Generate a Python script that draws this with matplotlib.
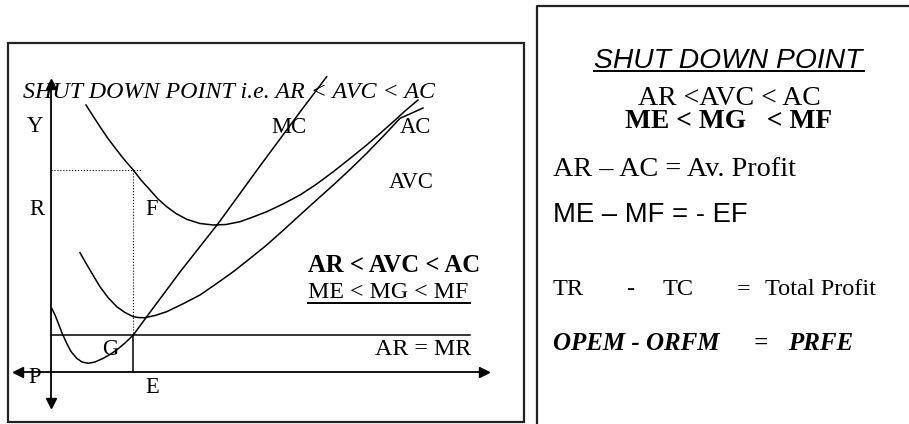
import numpy as np
import matplotlib.pyplot as plt
from matplotlib.patches import Rectangle

# curves (pixel coordinates, y downwards)
mc_x = [51.7, 55.0, 58.3, 62.0, 66.7, 71.0, 76.7, 82.0, 88.3, 95.0, 103.3, 110.0, 116.7, 125.0, 133.3, 146.7, 180.0, 218.3, 260.0, 300.0, 326.7]
mc_y = [308.3, 315.0, 323.3, 333.0, 343.3, 351.5, 358.3, 362.0, 363.3, 362.0, 358.3, 354.5, 350.0, 343.0, 335.0, 316.7, 272.0, 223.3, 166.0, 112.0, 76.7]

ac_x = [86.0, 93.0, 100.0, 108.0, 116.7, 125.0, 133.3, 141.0, 150.0, 158.0, 166.7, 176.0, 186.7, 200.0, 213.3, 226.0, 240.0, 253.0, 266.7, 283.0, 300.0, 316.0, 333.3, 350.0, 366.7, 380.0, 393.3, 405.0, 418.0]
ac_y = [105.0, 116.0, 126.7, 138.5, 150.0, 160.5, 170.0, 180.0, 190.0, 199.0, 206.7, 213.5, 219.3, 223.5, 225.0, 224.5, 221.7, 217.0, 211.7, 204.0, 195.0, 184.5, 171.7, 158.5, 145.0, 133.5, 121.7, 111.0, 100.0]

avc_x = [80.0, 85.0, 90.0, 95.0, 100.0, 108.0, 116.7, 125.0, 133.3, 139.0, 145.0, 155.0, 166.7, 183.0, 200.0, 216.0, 233.3, 250.0, 266.7, 283.0, 300.0, 316.0, 333.3, 350.0, 366.7, 383.0, 400.0, 412.0, 423.0]
avc_y = [252.7, 261.5, 270.0, 278.5, 286.7, 297.5, 306.7, 312.5, 316.7, 317.6, 317.7, 315.5, 311.7, 303.8, 295.0, 284.0, 271.7, 258.5, 245.0, 230.5, 215.0, 200.5, 185.0, 169.5, 153.3, 136.5, 118.3, 113.0, 108.0]

price_y = 335.0      # AR = MR level
output_x = 133.3     # quantity E
fy = 170.0           # level of F on AC

fig = plt.figure(figsize=(9.09, 4.24), dpi=100)
ax = fig.add_axes([0, 0, 1, 1])
ax.set_xlim(0, 909)
ax.set_ylim(424, 0)
ax.axis('off')

serif = ['Liberation Serif', 'DejaVu Serif']
sans = ['Liberation Sans', 'DejaVu Sans']

# frames
ax.add_patch(Rectangle((8, 43), 515.7, 379, fill=False, lw=1.6, ec='#222222'))
ax.plot([537, 537, 912], [426, 6, 6], color='#222222', lw=1.6)

# axes with arrows
ax.plot([50.7, 50.7], [86, 404], color='black', lw=1.3)
ax.plot([18, 484], [371.7, 371.7], color='black', lw=1.3)
ax.plot([50.7], [84], marker='^', color='black', ms=7)
ax.plot([50.7], [403], marker='v', color='black', ms=7)
ax.plot([18], [371.7], marker='<', color='black', ms=7)
ax.plot([484], [371.7], marker='>', color='black', ms=7)

# AR = MR line and E drop
ax.plot([50.7, 470], [price_y, price_y], color='black', lw=1.1)
ax.plot([output_x, output_x], [price_y, 371.7], color='black', lw=1.1)
ax.plot([output_x, output_x], [fy, price_y], color='black', lw=0.8, ls=':')
ax.plot([50.7, 141.7], [fy, fy], color='black', lw=0.8, ls=':')

# cost curves
ax.plot(mc_x, mc_y, color='black', lw=1.1)
ax.plot(ac_x, ac_y, color='black', lw=1.1)
ax.plot(avc_x, avc_y, color='black', lw=1.1)

# diagram labels
ax.text(23, 97.7, 'SHUT DOWN POINT i.e. AR < AVC < AC', family=serif, style='italic', fontsize=17.3, va='baseline')
lab = dict(family=serif, fontsize=16.3, va='baseline')
ax.text(26.7, 131.7, 'Y', **lab)
ax.text(29.3, 215, 'R', **lab)
ax.text(145, 215, 'F', **lab)
ax.text(101.7, 355, 'G', **lab)
ax.text(28.3, 383.3, 'P', **lab)
ax.text(145, 393.3, 'E', **lab)
ax.text(271.7, 132.7, 'MC', **lab)
ax.text(400, 132.7, 'AC', **lab)
ax.text(388.3, 188.3, 'AVC', **lab)
ax.text(375, 355, 'AR = MR', family=serif, fontsize=17.3, va='baseline')
ax.text(308.3, 272.3, 'AR < AVC < AC', family=serif, weight='bold', fontsize=17.8, va='baseline')
ax.text(308.3, 298.3, 'ME < MG < MF', family=serif, fontsize=17.2, va='baseline')
ax.plot([308.3, 470], [302.7, 302.7], color='black', lw=1.4)

# right panel
ax.text(594.3, 68.3, 'SHUT DOWN POINT', family=sans, style='italic', fontsize=20.3, va='baseline')
ax.plot([594.3, 864], [70.5, 70.5], color='black', lw=1.4)
ax.text(729, 105, 'AR <AVC < AC', family=serif, fontsize=20, va='baseline', ha='center')
ax.text(729, 128.3, 'ME < MG   < MF', family=serif, weight='bold', fontsize=19.8, va='baseline', ha='center')
ax.text(553, 175.7, 'AR \u2013 AC = Av. Profit', family=serif, fontsize=20.3, va='baseline')
ax.text(553, 222.3, 'ME \u2013 MF = - EF', family=sans, fontsize=19.8, va='baseline')
tr = dict(family=serif, fontsize=17.5, va='baseline')
ax.text(553, 295, 'TR', **tr)
ax.text(626, 295, '-', **tr)
ax.text(663, 295, 'TC', **tr)
ax.text(737, 295, '=', **tr)
ax.text(765, 295, 'Total Profit', **tr)
op = dict(family=serif, weight='bold', style='italic', fontsize=18, va='baseline')
ax.text(553, 350, 'OPEM - ORFM', **op)
ax.text(754, 350, '=', **op)
ax.text(788, 350, 'PRFE', **op)

plt.savefig('out.png', dpi=100)
